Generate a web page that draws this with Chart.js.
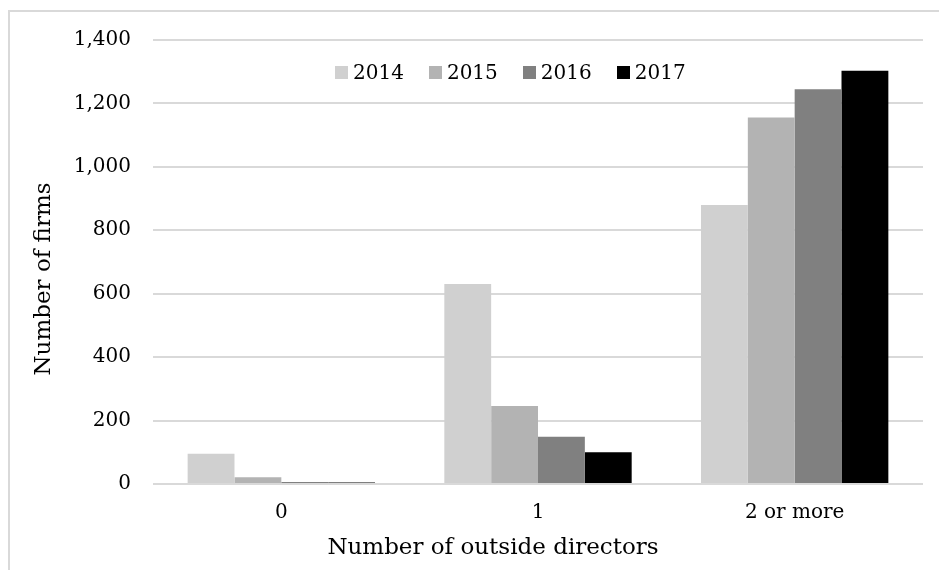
<!DOCTYPE html>
<html>
<head>
<meta charset="utf-8">
<script src="https://cdn.jsdelivr.net/npm/chart.js@4.4.0/dist/chart.umd.min.js"></script>
<style>
  html, body { margin: 0; padding: 0; background: #fff; }
  #wrap { position: relative; width: 939px; height: 570px; overflow: hidden; }
  #frame { position: absolute; left: 8px; top: 10px; width: 1000px; height: 1000px;
           border-left: 2px solid #d9d9d9; border-top: 2px solid #d9d9d9; }
  #chart { position: absolute; left: 0; top: 0; }
  #legend { position: absolute; top: 60px; left: 335px; display: flex;
            font-family: "DejaVu Serif", serif; font-size: 20px; color: #000; }
  .item { display: flex; align-items: center; margin-right: 25px; }
  .box { width: 13px; height: 13px; margin-right: 5px; }
</style>
</head>
<body>
<div id="wrap">
  <div id="frame"></div>
  <canvas id="chart" width="939" height="570"></canvas>
  <div id="legend"></div>
</div>
<script>
const categories = ["0", "1", "2 or more"];
const years = ["2014", "2015", "2016", "2017"];
const values2014 = [95, 631, 880];
const values2015 = [21, 246, 1156];
const values2016 = [6, 149, 1245];
const values2017 = [5, 100, 1303];
const yTicks = [0, 200, 400, 600, 800, 1000, 1200, 1400];
const colors = ["#d0d0d0", "#b3b3b3", "#808080", "#000000"];
const xTitle = "Number of outside directors";
const yTitle = "Number of firms";

const tickFont = { family: "DejaVu Serif", size: 20 };
const seriesValues = [values2014, values2015, values2016, values2017];

const datasets = years.map((y, i) => ({
  label: y,
  data: seriesValues[i],
  backgroundColor: colors[i],
  borderWidth: 0,
  categoryPercentage: 0.73,
  barPercentage: 1.0,
}));

// Axis titles sit a bit off-centre in the original (Excel style), so draw them here
const axisTitles = {
  id: "axisTitles",
  afterDraw(chart) {
    const { ctx } = chart;
    ctx.save();
    ctx.font = "23px 'DejaVu Serif'";
    ctx.fillStyle = "#000";
    ctx.textAlign = "center";
    ctx.textBaseline = "middle";
    ctx.fillText(xTitle, 493, 548);
    ctx.translate(44, 279);
    ctx.rotate(-Math.PI / 2);
    ctx.fillText(yTitle, 0, 0);
    ctx.restore();
  },
};

const chart = new Chart(document.getElementById("chart"), {
  type: "bar",
  data: { labels: categories, datasets },
  plugins: [axisTitles],
  options: {
    responsive: false,
    animation: false,
    layout: { padding: { top: 40, right: 16, bottom: 0, left: 0 } },
    plugins: {
      legend: { display: false },
      tooltip: { enabled: false },
    },
    scales: {
      x: {
        grid: { display: false, drawTicks: false },
        border: { display: false },
        ticks: { color: "#000", font: tickFont, padding: 17 },
        afterFit: (scale) => { scale.height = 86; },
      },
      y: {
        min: 0,
        max: 1400,
        grid: { color: "#d9d9d9", lineWidth: 2, drawTicks: false },
        border: { display: false },
        afterBuildTicks: (scale) => { scale.ticks = yTicks.map((v) => ({ value: v })); },
        ticks: {
          color: "#000",
          font: tickFont,
          padding: 22,
          callback: (value) => value.toLocaleString("en-US"),
        },
        afterFit: (scale) => { scale.width = 153; },
      },
    },
  },
});

// Legend
const legend = document.getElementById("legend");
chart.data.datasets.forEach((ds) => {
  const item = document.createElement("div");
  item.className = "item";
  item.innerHTML = `<span class="box" style="background:${ds.backgroundColor}"></span><span>${ds.label}</span>`;
  legend.appendChild(item);
});
</script>
</body>
</html>
